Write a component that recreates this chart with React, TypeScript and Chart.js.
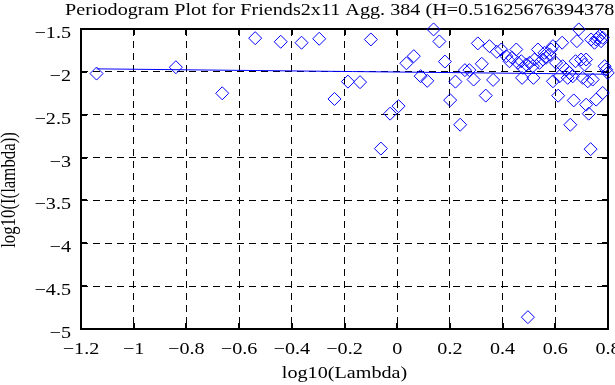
import React, { useEffect, useRef } from "react";
import { Chart, registerables } from "chart.js";

Chart.register(...registerables);

const TITLE = "Periodogram Plot for Friends2x11 Agg. 384 (H=0.516256763943783)";
const X_LABEL = "log10(Lambda)";
const Y_LABEL = "log10(I(lambda))";
const FONT = "'Liberation Serif', 'Times New Roman', serif";
const FONT_SIZE = 21;
const SX = 0.96;
const SY = 0.8;

const logLambda = [
  -1.141, -0.84, -0.664, -0.539, -0.442, -0.363, -0.296, -0.238, -0.187, -0.141,
  -0.1, -0.062, -0.027, 0.005, 0.035, 0.063, 0.089, 0.114, 0.138, 0.16,
  0.181, 0.201, 0.221, 0.239, 0.257, 0.274, 0.29, 0.306, 0.321, 0.336,
  0.35, 0.364, 0.378,
  0.395, 0.414, 0.426, 0.436, 0.452, 0.458, 0.471, 0.474, 0.477, 0.49,
  0.496, 0.502, 0.515, 0.517, 0.521, 0.534, 0.54, 0.553, 0.559, 0.565, 0.578,
  0.584, 0.591, 0.591, 0.603, 0.611, 0.616, 0.626, 0.628, 0.641, 0.647,
  0.654, 0.657, 0.666, 0.67, 0.677, 0.682, 0.689, 0.698, 0.704, 0.711,
  0.717, 0.717, 0.723, 0.727, 0.734, 0.736, 0.742, 0.749, 0.755, 0.755,
  0.761, 0.768, 0.774, 0.78, 0.78, 0.787, 0.793, 0.799,
];

const logPower = [
  -2.02, -1.946, -2.25, -1.607, -1.649, -1.66, -1.614, -2.316, -2.114, -2.12,
  -1.622, -2.895, -2.488, -2.4, -1.9, -1.817, -2.05, -2.105, -1.505, -1.645,
  -1.88, -2.33, -2.114, -2.617, -1.98, -1.98, -2.09, -1.668, -1.906, -2.277,
  -1.7, -2.094, -1.766,
  -1.739, -1.817, -1.876, -1.836, -1.739, -1.895, -1.876, -2.07, -1.953, -1.915,
  -4.862, -1.895, -1.934, -2.07, -1.856, -1.739, -1.895, -1.856, -1.778, -1.836, -1.797,
  -1.739, -1.7, -2.11, -1.895, -2.278, -2.052, -1.66, -1.934, -1.973, -2.07,
  -2.012, -2.617, -2.052, -2.333, -1.876, -1.642, -1.505, -1.856, -2.07, -1.915,
  -1.856, -2.383, -2.11, -2.488, -2.902, -1.622, -2.09, -1.66, -1.622, -2.324,
  -1.602, -1.583, -1.642, -1.602, -2.246, -1.934, -1.973, -2.012,
];

const fitX = [-1.141, 0.8];
const fitY = [-1.965, -2.028];

const xTicks = { min: -1.2, max: 0.8, step: 0.2 };
const yTicks = { min: -5, max: -1.5, step: 0.5 };

const minus = (v: number) => {
  const r = Math.round(v * 1000) / 1000;
  return String(r).replace("-", "\u2212");
};

function drawText(ctx: any, text: string, x: number, y: number, align: string, rotate = false) {
  ctx.save();
  ctx.translate(x, y);
  if (rotate) {
    ctx.rotate(-Math.PI / 2);
    ctx.scale(SY, SX);
  } else {
    ctx.scale(SX, SY);
  }
  ctx.font = `${FONT_SIZE}px ${FONT}`;
  ctx.textAlign = align;
  ctx.textBaseline = "alphabetic";
  ctx.fillStyle = "#000";
  ctx.fillText(text, 0, 0);
  ctx.restore();
}

const decor = {
  id: "decor",
  beforeDatasetsDraw(chart: any) {
    const { ctx, chartArea: a, scales } = chart;
    ctx.save();
    ctx.strokeStyle = "#000";
    ctx.lineWidth = 2;
    ctx.strokeRect(a.left, a.top, a.right - a.left, a.bottom - a.top);
    ctx.beginPath();
    for (const t of scales.x.ticks) {
      const px = Math.round(scales.x.getPixelForValue(t.value));
      ctx.moveTo(px, a.bottom);
      ctx.lineTo(px, a.bottom - 6);
      ctx.moveTo(px, a.top);
      ctx.lineTo(px, a.top + 6);
    }
    for (const t of scales.y.ticks) {
      const py = Math.round(scales.y.getPixelForValue(t.value));
      ctx.moveTo(a.left, py);
      ctx.lineTo(a.left + 6, py);
      ctx.moveTo(a.right, py);
      ctx.lineTo(a.right - 6, py);
    }
    ctx.stroke();
    ctx.restore();
  },
  afterDraw(chart: any) {
    const { ctx, chartArea: a, scales } = chart;
    for (const t of scales.x.ticks) {
      const px = scales.x.getPixelForValue(t.value);
      drawText(ctx, minus(t.value), px, 354, "center");
    }
    for (const t of scales.y.ticks) {
      const py = scales.y.getPixelForValue(t.value);
      drawText(ctx, minus(t.value), 71, py + 9, "right");
    }
    drawText(ctx, TITLE, 65, 15, "left");
    drawText(ctx, X_LABEL, (a.left + a.right) / 2, 378, "center");
    drawText(ctx, Y_LABEL, 15, 190, "center", true);
  },
};

export default function App() {
  const ref = useRef<HTMLCanvasElement | null>(null);
  useEffect(() => {
    document.body.style.margin = "0";
    const canvas = ref.current;
    if (!canvas) return;
    const points = logLambda.map((x, i) => ({ x, y: logPower[i] }));
    const fit = fitX.map((x, i) => ({ x, y: fitY[i] }));
    const chart = new Chart(canvas, {
      type: "scatter",
      data: {
        datasets: [
          {
            type: "line",
            data: fit,
            borderColor: "#0000ff",
            borderWidth: 1,
            pointRadius: 0,
            fill: false,
            clip: false,
          } as any,
          {
            type: "scatter",
            data: points,
            pointStyle: "rectRot",
            pointRadius: 6.5,
            pointHoverRadius: 6.5,
            borderColor: "#0000ff",
            backgroundColor: "rgba(0,0,0,0)",
            borderWidth: 1,
            clip: false,
          } as any,
        ],
      },
      options: {
        animation: false,
        responsive: false,
        events: [],
        layout: { autoPadding: false, padding: { top: 29, right: 7, bottom: 0, left: 0 } } as any,
        plugins: { legend: { display: false }, tooltip: { enabled: false }, title: { display: false } },
        scales: {
          x: {
            type: "linear",
            min: xTicks.min,
            max: xTicks.max,
            afterFit: (s: any) => {
              s.height = 56;
            },
            ticks: { stepSize: xTicks.step, display: false, autoSkip: false },
            grid: { color: "#000", lineWidth: 1, drawTicks: false },
            border: { display: false, dash: [7, 5] },
          },
          y: {
            type: "linear",
            min: yTicks.min,
            max: yTicks.max,
            afterFit: (s: any) => {
              s.width = 81;
            },
            ticks: { stepSize: yTicks.step, display: false, autoSkip: false },
            grid: { color: "#000", lineWidth: 1, drawTicks: false },
            border: { display: false, dash: [7, 5] },
          },
        },
      },
      plugins: [decor],
    });
    return () => chart.destroy();
  }, []);
  return (
    <canvas ref={ref} width={615} height={385} style={{ display: "block", width: 615, height: 385 }} />
  );
}
